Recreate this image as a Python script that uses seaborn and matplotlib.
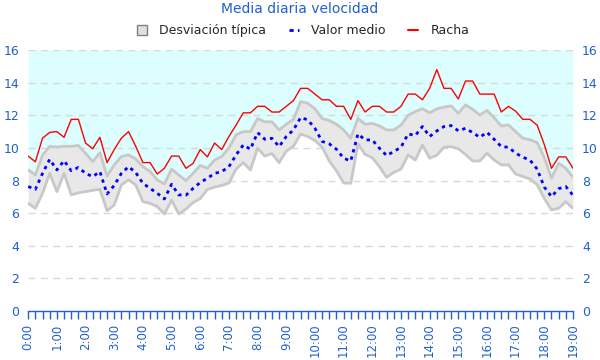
import matplotlib
matplotlib.use("Agg")
import matplotlib.pyplot as plt
import numpy as np
import pandas as pd
import seaborn as sns
from matplotlib.patches import Patch
from matplotlib.lines import Line2D

# 15-minute samples from 0:00 to 19:00
hours = [f"{h}:00" for h in range(20)]

racha = [9.5, 9.15, 10.6, 10.95, 11.0, 10.65, 11.75, 11.75, 10.3, 9.95,
         10.65, 9.1, 9.9, 10.6, 11.0, 10.1, 9.1, 9.1, 8.4, 8.75,
         9.5, 9.5, 8.75, 9.05, 9.9, 9.45, 10.3, 9.9, 10.7, 11.4,
         12.15, 12.15, 12.55, 12.55, 12.2, 12.2, 12.55, 12.9, 13.65, 13.65,
         13.3, 12.95, 12.95, 12.55, 12.55, 11.75, 12.9, 12.2, 12.55, 12.55,
         12.2, 12.2, 12.55, 13.3, 13.3, 12.95, 13.65, 14.8, 13.65, 13.65,
         13.0, 14.1, 14.1, 13.3, 13.3, 13.3, 12.2, 12.55, 12.25, 11.75,
         11.75, 11.4, 10.2, 8.75, 9.45, 9.45, 8.75]

media = [7.63, 7.46, 8.44, 9.3, 8.65, 9.22, 8.6, 8.8, 8.44, 8.24,
         8.55, 7.18, 7.7, 8.44, 8.85, 8.49, 7.83, 7.52, 7.22, 6.87,
         7.77, 7.12, 7.1, 7.52, 7.88, 8.14, 8.44, 8.55, 8.85, 9.57,
         10.18, 9.92, 10.94, 10.53, 10.59, 10.08, 10.7, 11.1, 11.86, 11.72,
         11.2, 10.4, 10.25, 9.92, 9.37, 9.2, 10.86, 10.49, 10.49, 9.98,
         9.53, 9.78, 10.04, 10.86, 10.76, 11.31, 10.7, 11.04, 11.31, 11.37,
         11.05, 11.2, 10.94, 10.65, 10.96, 10.53, 10.08, 10.04, 9.68, 9.43,
         9.25, 8.7, 7.6, 7.01, 7.5, 7.63, 7.1]

desv_sup = [8.65, 8.35, 9.55, 10.1, 10.05, 10.1, 10.1, 10.15, 9.67, 9.16,
            9.71, 8.28, 8.96, 9.47, 9.57, 9.33, 8.85, 8.55, 8.04, 7.79,
            8.7, 8.34, 8.0, 8.44, 8.93, 8.75, 9.26, 9.47, 10.0, 10.8,
            11.0, 11.0, 11.8, 11.6, 11.6, 11.1, 11.45, 11.75, 12.84, 12.74,
            12.4, 11.8, 11.68, 11.45, 11.1, 10.6, 11.82, 11.45, 11.5, 11.35,
            11.1, 11.1, 11.4, 12.0, 12.23, 12.4, 12.15, 12.4, 12.5, 12.58,
            12.12, 12.64, 12.37, 12.02, 12.3, 11.85, 11.35, 11.41, 11.0, 10.6,
            10.5, 10.33, 9.4, 8.14, 9.06, 8.75, 8.2]

desv_inf = [6.6, 6.3, 7.22, 8.44, 7.32, 8.44, 7.12, 7.25, 7.32, 7.4,
            7.46, 6.15, 6.5, 7.73, 8.04, 7.73, 6.71, 6.6, 6.4, 5.95,
            6.8, 5.95, 6.25, 6.65, 6.9, 7.45, 7.6, 7.7, 7.85, 8.7,
            9.1, 8.65, 9.98, 9.5, 9.65, 9.1, 9.8, 10.1, 10.85, 10.7,
            10.45, 10.05, 9.2, 8.6, 7.85, 7.83, 10.25, 9.6, 9.4, 8.85,
            8.2, 8.5, 8.7, 9.57, 9.26, 10.18, 9.37, 9.55, 10.05, 10.08,
            9.95, 9.6, 9.2, 9.2, 9.67, 9.26, 8.96, 8.96, 8.4, 8.25,
            8.1, 7.75, 6.9, 6.2, 6.3, 6.7, 6.3]

df = pd.DataFrame({"t": np.arange(len(media)), "media": media, "racha": racha,
                   "sup": desv_sup, "inf": desv_inf})

azul = "#2060d0"
sns.set_style("white")
plt.rcParams["font.family"] = ["DejaVu Sans"]

fig = plt.figure(figsize=(6, 3.6), dpi=100)
ax = fig.add_axes([0.047, 0.136, 0.908, 0.725])

# fondo cian sobre la banda
ax.fill_between(df["t"], df["sup"], 16, color="#dcfefe", lw=0, zorder=0.5)
for y in range(2, 17, 2):
    ax.axhline(y, color="#d8d8d8", lw=1, ls=(0, (5, 4)), zorder=1)

ax.fill_between(df["t"], df["inf"], df["sup"], color="#e8e8e8", lw=0, zorder=2)
sns.lineplot(data=df, x="t", y="sup", ax=ax, color="#c8c8c8", lw=2, zorder=2.5)
sns.lineplot(data=df, x="t", y="inf", ax=ax, color="#c8c8c8", lw=2, zorder=2.5)
sns.lineplot(data=df, x="t", y="racha", ax=ax, color="red", lw=1, zorder=3)
sns.lineplot(data=df, x="t", y="media", ax=ax, color="blue", lw=2, zorder=4,
             linestyle=(0, (1.2, 1.5)))

ax.set_xlim(0, len(media) - 1)
ax.set_ylim(0, 16)
ax.set_xlabel("")
ax.set_ylabel("")
ax.set_xticks(np.arange(0, len(media), 4))
ax.set_xticks(np.arange(0, len(media)), minor=True)
ax.set_xticklabels(hours, rotation=90, color=azul, fontsize=8.5)
ax.set_yticks(range(0, 17, 2))
ax.tick_params(axis="x", which="both", length=6, width=1, color=azul, direction="out",
               bottom=True, pad=3)
ax.tick_params(axis="y", left=False, right=False, labelleft=True, labelright=True,
               labelcolor=azul, labelsize=9, pad=3)
for s in ["top", "left", "right"]:
    ax.spines[s].set_visible(False)
ax.spines["bottom"].set_color(azul)
ax.spines["bottom"].set_linewidth(1)

fig.suptitle("Media diaria velocidad", color=azul, fontsize=10, y=0.995)

handles = [Patch(facecolor="#e0e0e0", edgecolor="#808080", lw=1),
           Line2D([], [], color="blue", lw=2, linestyle=(0, (1.5, 1.5))),
           Line2D([], [], color="red", lw=1.5)]
fig.legend(handles, ["Desviación típica", "Valor medio", "Racha"], loc="center",
           bbox_to_anchor=(0.505, 0.915), ncol=3, frameon=False, fontsize=9,
           handlelength=0.8, handleheight=0.8, columnspacing=1.8, handletextpad=1.0)

plt.savefig("out.png", dpi=100)
